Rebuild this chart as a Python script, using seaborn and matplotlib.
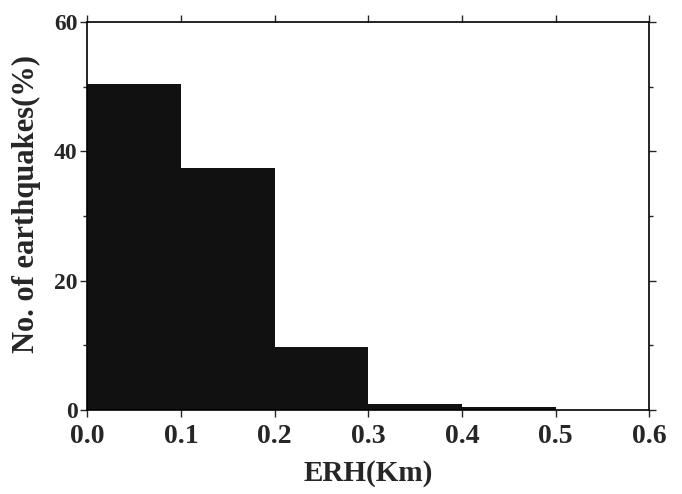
import matplotlib
matplotlib.use("Agg")
import matplotlib.pyplot as plt
import seaborn as sns
import pandas as pd
from matplotlib.ticker import MultipleLocator

bin_left = [0.0, 0.1, 0.2, 0.3, 0.4]
bin_right = [0.1, 0.2, 0.3, 0.4, 0.5]
percent = [50.5, 37.4, 9.8, 0.9, 0.5]
xticks = [0.0, 0.1, 0.2, 0.3, 0.4, 0.5, 0.6]
yticks = [0, 20, 40, 60]

sns.set_style("ticks")
plt.rcParams['font.family'] = ['Liberation Serif', 'DejaVu Serif']
plt.rcParams['font.weight'] = 'bold'

df = pd.DataFrame({"erh": [(a + b) / 2 for a, b in zip(bin_left, bin_right)],
                   "pct": percent})
edges = bin_left + [bin_right[-1]]

fig = plt.figure(figsize=(6.82, 4.94), dpi=100)
ax = fig.add_axes([0.128, 0.17, 0.824, 0.785])
sns.histplot(data=df, x="erh", weights="pct", bins=edges, ax=ax,
             color="#111111", alpha=1.0, edgecolor="#111111", linewidth=0)

ax.set_xlim(0, 0.6)
ax.set_ylim(0, 60)
ax.set_xticks(xticks)
ax.set_xticklabels([f"{v:.1f}" for v in xticks], fontsize=20, fontweight='bold')
ax.set_yticks(yticks)
ax.set_yticklabels([str(v) for v in yticks], fontsize=17, fontweight='bold')
ax.yaxis.set_minor_locator(MultipleLocator(10))
ax.tick_params(axis='both', which='major', length=5, width=1, direction='out',
               top=True, right=True)
ax.tick_params(axis='x', which='major', pad=5)
ax.tick_params(axis='y', which='major', pad=2)
ax.tick_params(axis='y', which='minor', length=3, width=1, right=True)
for s in ax.spines.values():
    s.set_visible(True)
    s.set_linewidth(1.2)
    s.set_color('black')
ax.set_xlabel("ERH(Km)", fontsize=21, fontweight='bold', labelpad=8)
ax.set_ylabel("No. of earthquakes(%)", fontsize=22, fontweight='bold', labelpad=10)
ax.yaxis.set_label_coords(-0.083, 0.53)

fig.savefig("out.png", dpi=100, facecolor='white')
